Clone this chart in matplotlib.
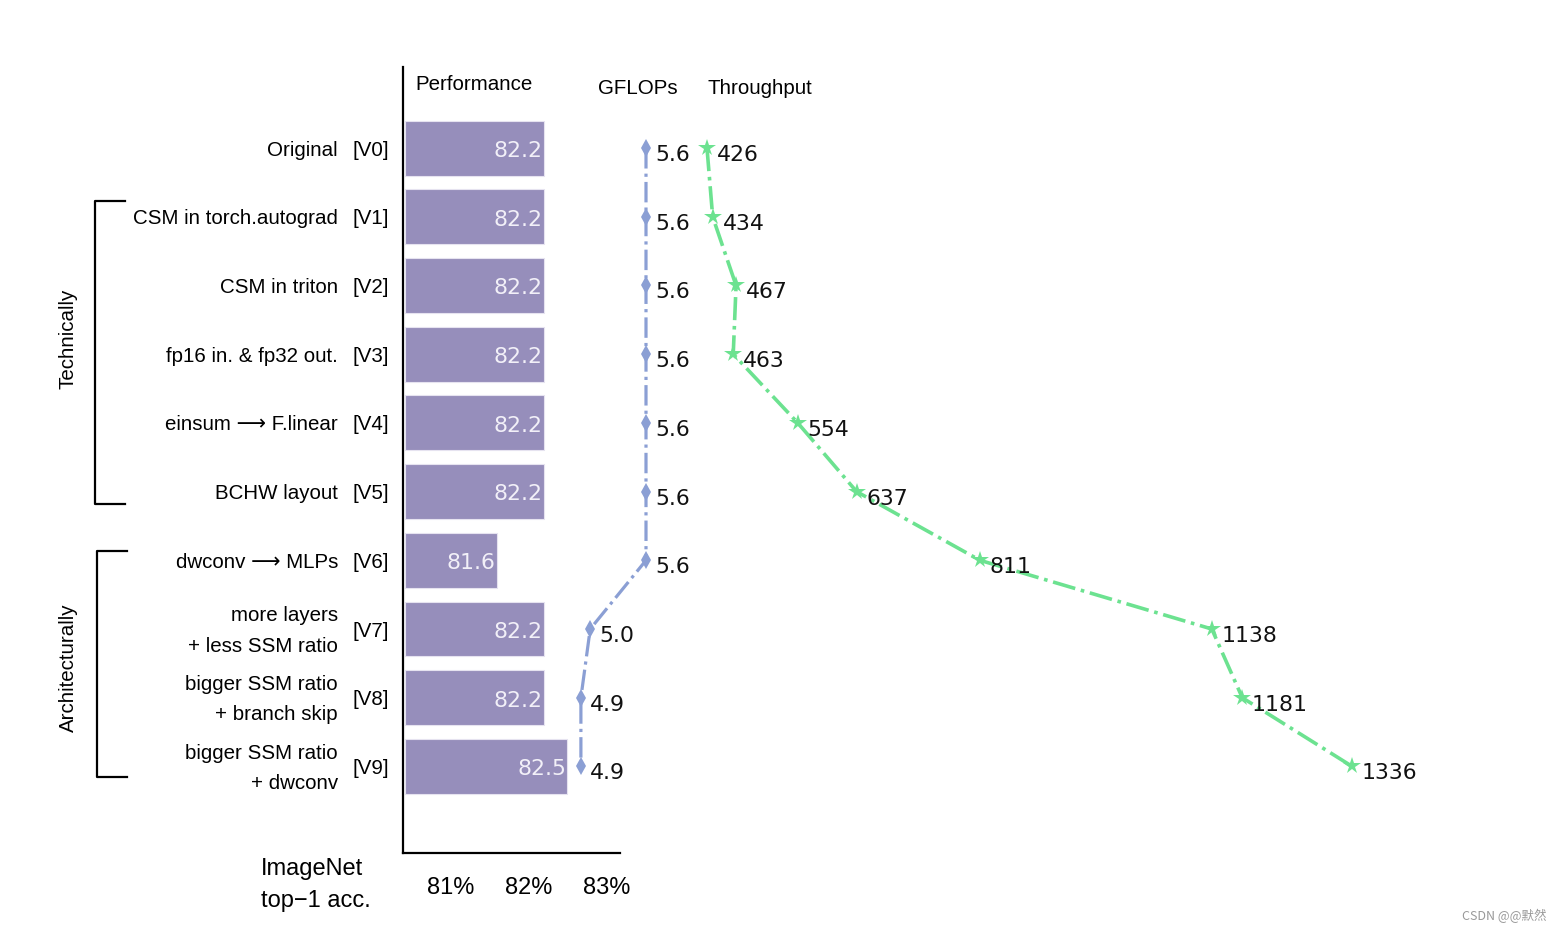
import matplotlib
matplotlib.use("Agg")
import matplotlib.pyplot as plt
import matplotlib.transforms as mtransforms
import numpy as np

# data
versions = ['[V0]', '[V1]', '[V2]', '[V3]', '[V4]', '[V5]', '[V6]', '[V7]', '[V8]', '[V9]']
names = ['Original', 'CSM in torch.autograd', 'CSM in triton', 'fp16 in. & fp32 out.',
         'einsum \u27f6 F.linear', 'BCHW layout', 'dwconv \u27f6 MLPs',
         'more layers\n+ less SSM ratio', 'bigger SSM ratio\n+ branch skip',
         'bigger SSM ratio\n+ dwconv']
acc = [82.2, 82.2, 82.2, 82.2, 82.2, 82.2, 81.6, 82.2, 82.2, 82.5]
gflops = [5.6, 5.6, 5.6, 5.6, 5.6, 5.6, 5.6, 5.0, 4.9, 4.9]
throughput = [426, 434, 467, 463, 554, 637, 811, 1138, 1181, 1336]
acc_ticks = [81, 82, 83]
acc_ticklabels = ['81%', '82%', '83%']

W, H = 1563, 933
bar_color = '#968ebb'
gf_color = '#8b9fd4'
tp_color = '#6ce290'
lab_font = ['Liberation Sans', 'DejaVu Sans']

fig = plt.figure(figsize=(W / 100, H / 100), dpi=100)
y = np.arange(len(acc))

# bar axes
bot = 1 - 853 / H
hgt = (853 - 67) / H
ax = fig.add_axes([403 / W, bot, (620 - 403) / W, hgt])
base = 80.418
ax.barh(y, np.array(acc) - base, left=base, height=0.8, color=bar_color,
        edgecolor='#e6e3f0', linewidth=0.8)
ax.set_xlim(80.392, 83.174)
ax.set_ylim(10.26, -1.18)
for i, v in enumerate(acc):
    ax.annotate(f'{v:.1f}', (v, i), xytext=(-1, -2), textcoords='offset points',
                ha='right', va='center', color='#f2f0f8', fontsize=15.8)
ax.set_xticks(acc_ticks)
ax.set_xticklabels(acc_ticklabels, fontsize=17, family=lab_font)
ax.tick_params(axis='x', length=0, pad=17)
ax.set_yticks([])
for s in ['top', 'right']:
    ax.spines[s].set_visible(False)
ax.spines['left'].set_linewidth(1.6)
ax.spines['bottom'].set_linewidth(1.6)

# GFLOPs
ax_g = fig.add_axes([560 / W, bot, 140 / W, hgt], sharey=ax)
ax_g.plot(gflops, y, linestyle='-.', color=gf_color, lw=2.3, marker='d',
          markersize=9, markeredgewidth=0, clip_on=False)
ax_g.set_xlim(5.6 - 86 / 93, 5.6 + 54 / 93)
ax_g.axis('off')
for i, v in enumerate(gflops):
    ax_g.annotate(f'{v:.1f}', (v, i), xytext=(6.5, -5), textcoords='offset points',
                  ha='left', va='center', fontsize=15.8, color='#111111')

# throughput
ax_t = fig.add_axes([700 / W, bot, 750 / W, hgt], sharey=ax)
ax_t.plot(throughput, y, linestyle='-.', color=tp_color, lw=2.6, marker='*',
          markersize=13, markeredgewidth=0, clip_on=False)
ax_t.set_xlim(426 - 7 / 0.709, 426 + 743 / 0.709)
ax_t.axis('off')
for i, v in enumerate(throughput):
    ax_t.annotate(f'{v}', (v, i), xytext=(7, -5), textcoords='offset points',
                  ha='left', va='center', fontsize=15.8, color='#111111')

# row labels
tr = mtransforms.blended_transform_factory(fig.transFigure, ax.transData)
for i, (nm, vv) in enumerate(zip(names, versions)):
    fig.text(338 / W, i + 0.03, nm, transform=tr, ha='right', va='center',
             fontsize=14.8, family=lab_font, linespacing=1.75)
    fig.text(352 / W, i + 0.03, vv, transform=tr, ha='left', va='center',
             fontsize=14.8, family=lab_font)

# headers
fig.text(415 / W, 1 - 85 / H, 'Performance', ha='left', va='center', fontsize=14.8, family=lab_font)
fig.text(638 / W, 1 - 89 / H, 'GFLOPs', ha='center', va='center', fontsize=14.8, family=lab_font)
fig.text(708 / W, 1 - 89 / H, 'Throughput', ha='left', va='center', fontsize=14.8, family=lab_font)

# brackets
for (y0, y1, x0, ty, lab) in [(0.77, 5.18, 95, 2.77, 'Technically'),
                              (5.87, 9.16, 97, 7.57, 'Architecturally')]:
    xs = [(x0 + 30) / W, x0 / W, x0 / W, (x0 + 30) / W]
    ys = [y0, y0, y1, y1]
    fig.add_artist(plt.Line2D(xs, ys, transform=tr, color='black', lw=1.6))
    fig.text(68 / W, ty, lab, transform=tr, rotation=90, ha='center',
             va='center', fontsize=14.8, family=lab_font)

fig.text(261 / W, 1 - 885 / H, 'ImageNet\ntop\u22121 acc.', ha='left', va='center',
         fontsize=17, family=lab_font, linespacing=1.6)

fig.text(1547 / W, 1 - 916 / H, 'CSDN @@默然', ha='right', va='center', fontsize=9,
         color='#999999', family=['Noto Sans CJK SC', 'DejaVu Sans'])

fig.savefig('out.png', dpi=100)
